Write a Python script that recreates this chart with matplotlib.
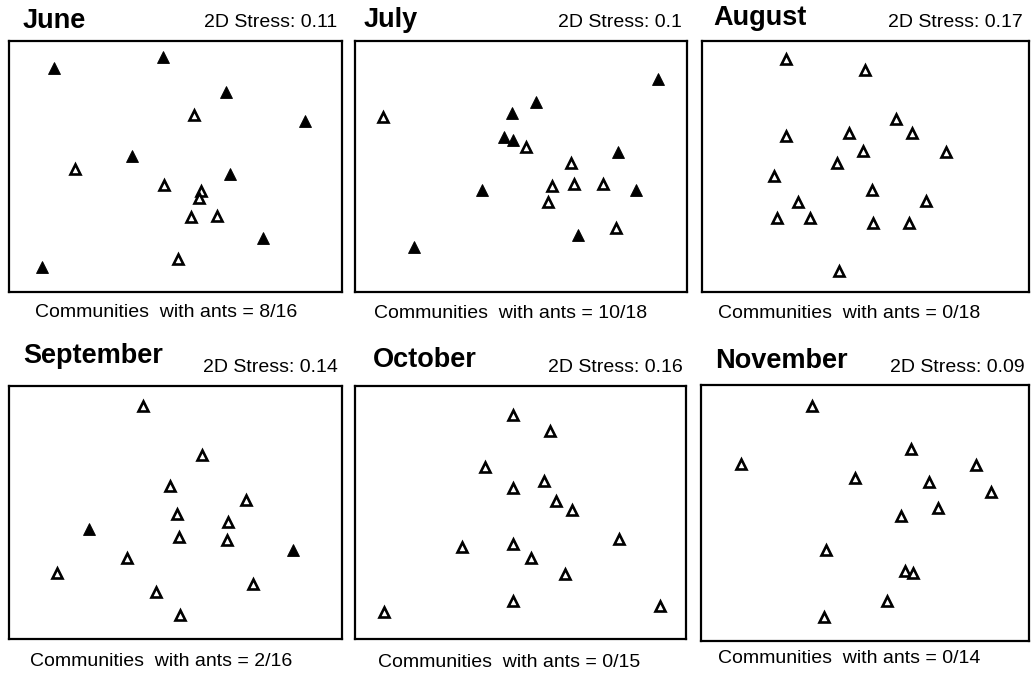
import matplotlib
matplotlib.use("Agg")
import matplotlib.pyplot as plt

plt.rcParams["font.family"] = ["Liberation Sans", "DejaVu Sans"]

# NMDS ordinations of insect communities, one per month (axes scaled 0-100).
# Filled triangles: communities with ants; open triangles: without ants.
months = ["June", "July", "August", "September", "October", "November"]
stress = ["0.11", "0.1", "0.17", "0.14", "0.16", "0.09"]
ants_counts = ["8/16", "10/18", "0/18", "2/16", "0/15", "0/14"]

june_ants_x = [13.5, 46.3, 65.2, 88.9, 37.0, 66.4, 76.2, 9.8]
june_ants_y = [89.1, 93.5, 79.8, 68.1, 54.3, 47.0, 21.4, 10.1]
june_none_x = [55.6, 19.9, 46.5, 57.6, 57.0, 54.6, 62.6, 50.8]
june_none_y = [70.5, 49.0, 42.6, 40.4, 37.3, 29.8, 30.3, 13.0]

july_ants_x = [91.4, 54.4, 47.2, 45.0, 47.7, 79.3, 38.2, 84.5, 67.1, 17.9]
july_ants_y = [84.7, 75.6, 71.2, 61.9, 60.6, 55.9, 40.6, 40.6, 22.7, 17.8]
july_none_x = [8.3, 51.5, 65.0, 59.4, 66.0, 74.8, 58.0, 78.5]
july_none_y = [69.8, 57.9, 51.5, 42.4, 43.0, 42.9, 36.0, 25.6]

aug_ants_x, aug_ants_y = [], []
aug_none_x = [25.6, 49.8, 59.2, 25.7, 45.0, 64.3, 49.1, 74.6, 41.2,
              22.1, 52.1, 29.3, 68.5, 23.0, 33.0, 52.2, 63.4, 41.9]
aug_none_y = [92.7, 88.4, 68.8, 62.3, 63.2, 63.2, 56.3, 55.9, 51.5,
              46.3, 40.6, 35.7, 36.3, 29.4, 29.4, 27.6, 27.4, 8.5]

sep_ants_x = [24.1, 85.2]
sep_ants_y = [43.4, 35.2]
sep_none_x = [40.2, 57.9, 48.3, 71.2, 50.5, 65.9, 51.1, 65.6, 35.5,
              14.5, 73.4, 44.1, 51.4]
sep_none_y = [92.2, 72.7, 60.5, 54.9, 49.4, 46.1, 40.4, 39.1, 32.1,
              26.0, 21.6, 18.5, 9.5]

oct_ants_x, oct_ants_y = [], []
oct_none_x = [47.6, 58.9, 39.3, 57.1, 47.8, 60.6, 65.5, 79.8, 32.2,
              47.6, 53.2, 63.4, 47.8, 8.9, 92.1]
oct_none_y = [88.5, 82.3, 67.9, 62.6, 59.6, 54.5, 51.0, 39.5, 36.5,
              37.4, 32.1, 25.6, 15.0, 10.8, 13.0]

nov_ants_x, nov_ants_y = [], []
nov_none_x = [33.8, 12.1, 64.0, 83.8, 47.0, 69.5, 88.4, 72.3, 61.0,
              38.0, 62.2, 64.7, 56.6, 37.6]
nov_none_y = [91.9, 69.1, 74.9, 68.8, 63.8, 62.0, 58.1, 51.8, 48.9,
              35.5, 27.5, 26.7, 15.6, 9.3]

ants_x = [june_ants_x, july_ants_x, aug_ants_x, sep_ants_x, oct_ants_x, nov_ants_x]
ants_y = [june_ants_y, july_ants_y, aug_ants_y, sep_ants_y, oct_ants_y, nov_ants_y]
none_x = [june_none_x, july_none_x, aug_none_x, sep_none_x, oct_none_x, nov_none_x]
none_y = [june_none_y, july_none_y, aug_none_y, sep_none_y, oct_none_y, nov_none_y]

W, H = 1031, 673
fig = plt.figure(figsize=(W / 100, H / 100), dpi=100)

# panel frames in pixels: left, top, right, bottom
frames = [(9, 41, 342, 292), (355, 41, 687, 292), (702, 41, 1029, 292),
          (9, 386, 342, 639), (355, 386, 686, 639), (701, 385, 1029, 641)]
title_pos = [(23, 28), (364, 27), (713, 25), (23, 363), (373, 367), (715, 368)]
stress_pos = [(337, 27), (682, 27), (1023, 27), (338, 372), (683, 372), (1025, 372)]
caption_pos = [(35, 317), (374, 318), (718, 318), (30, 666), (378, 667), (718, 663)]


def fx(px):
    return px / W


def fy(py):
    return 1 - py / H


for i, month in enumerate(months):
    l, t, r, b = frames[i]
    ax = fig.add_axes([fx(l), fy(b), (r - l) / W, (b - t) / H])
    ax.set_xlim(0, 100)
    ax.set_ylim(0, 100)
    ax.set_xticks([])
    ax.set_yticks([])
    for sp in ax.spines.values():
        sp.set_linewidth(1.6)
        sp.set_color("black")

    ax.plot(none_x[i], none_y[i], linestyle="none", marker="^",
            markersize=7.6, markerfacecolor="white", markeredgecolor="black",
            markeredgewidth=1.9)
    ax.plot(ants_x[i], ants_y[i], linestyle="none", marker="^",
            markersize=9.2, markerfacecolor="black", markeredgecolor="black",
            markeredgewidth=0.6)

    tx, ty = title_pos[i]
    fig.text(fx(tx), fy(ty), month, fontsize=19.5, fontweight="bold",
             ha="left", va="baseline")
    sx, sy = stress_pos[i]
    fig.text(fx(sx), fy(sy), f"2D Stress: {stress[i]}", fontsize=14,
             ha="right", va="baseline")
    cx, cy = caption_pos[i]
    fig.text(fx(cx), fy(cy), f"Communities  with ants = {ants_counts[i]}",
             fontsize=14, ha="left", va="baseline")

fig.savefig("out.png", dpi=100)
